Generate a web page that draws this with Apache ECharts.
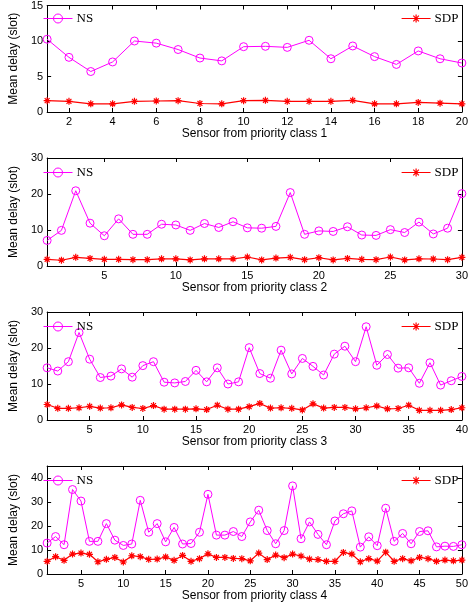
<!DOCTYPE html>
<html><head><meta charset="utf-8">
<script src="https://cdn.jsdelivr.net/npm/echarts@6/dist/echarts.min.js"></script>
<style>html,body{margin:0;padding:0;background:#fff}#c{width:471px;height:604px}</style>
</head><body><div id="c"></div><script>
// ---- data ----
const sensors1 = [1,2,3,4,5,6,7,8,9,10,11,12,13,14,15,16,17,18,19,20];
const sensors2 = [1,2,3,4,5,6,7,8,9,10,11,12,13,14,15,16,17,18,19,20,21,22,23,24,25,26,27,28,29,30];
const sensors3 = [1,2,3,4,5,6,7,8,9,10,11,12,13,14,15,16,17,18,19,20,21,22,23,24,25,26,27,28,29,30,31,32,33,34,35,36,37,38,39,40];
const sensors4 = [1,2,3,4,5,6,7,8,9,10,11,12,13,14,15,16,17,18,19,20,21,22,23,24,25,26,27,28,29,30,31,32,33,34,35,36,37,38,39,40,41,42,43,44,45,46,47,48,49,50];

const ns1  = [10.25,7.7,5.7,7.05,10.0,9.7,8.8,7.6,7.2,9.2,9.25,9.1,10.1,7.5,9.3,7.8,6.7,8.6,7.5,6.9];
const sdp1 = [1.6,1.5,1.15,1.15,1.5,1.55,1.6,1.2,1.15,1.6,1.65,1.5,1.5,1.5,1.65,1.15,1.15,1.35,1.25,1.15];

const ns2  = [7.1,9.9,20.9,11.9,8.4,13.1,8.8,8.8,11.6,11.4,9.9,11.8,10.7,12.3,10.6,10.5,11.0,20.4,8.8,9.75,9.6,10.9,8.6,8.5,10.1,9.3,12.2,8.9,10.5,20.1];
const sdp2 = [1.85,1.6,2.4,2.1,1.85,1.85,1.75,1.75,2.0,2.0,1.7,2.0,2.0,2.0,2.5,1.7,2.2,2.4,1.75,2.3,1.7,2.1,1.85,1.75,2.5,1.7,2.0,1.95,1.75,2.4];

const ns3  = [14.5,13.6,16.2,24.3,16.9,11.8,12.2,14.2,11.9,15.1,16.2,10.5,10.3,10.7,13.8,10.6,14.5,10.0,10.6,20.1,12.9,11.6,19.4,12.8,17.1,14.9,12.5,18.3,20.5,16.2,25.9,15.2,18.2,14.4,14.5,10.2,15.9,9.7,10.9,12.1];
const sdp3 = [4.3,3.25,3.25,3.4,3.8,3.3,3.4,4.2,3.5,3.2,4.0,3.0,3.0,3.0,3.1,2.9,4.1,3.0,3.0,3.7,4.6,3.3,3.4,3.25,2.8,4.5,3.3,3.5,3.5,3.1,3.4,3.9,3.1,3.2,4.1,2.7,2.7,2.7,2.9,3.4];

const ns4  = [12.9,15.6,12.2,35.2,30.4,13.6,13.6,21.0,14.1,11.9,12.5,30.7,17.4,21.0,13.4,19.4,12.5,12.7,17.4,33.2,16.2,16.2,17.7,15.6,21.7,26.6,18.1,12.6,18.1,36.7,14.7,21.7,16.5,12.2,22.1,25.1,26.3,11.2,15.5,11.8,27.4,13.6,16.9,12.6,17.7,18.0,11.3,11.6,11.5,12.2];
const sdp4 = [5.3,7.2,5.7,8.3,8.7,8.2,5.1,6.1,6.9,5.0,7.6,7.2,6.1,6.2,7.1,5.7,7.75,5.3,6.4,8.4,6.9,6.9,6.5,6.4,5.5,8.7,6.0,7.9,6.8,8.3,7.5,6.2,6.0,5.3,5.3,9.0,8.3,5.1,6.4,5.4,9.1,5.3,6.4,5.5,6.9,6.4,5.3,5.8,5.5,5.8];

const xTicks1 = [2,4,6,8,10,12,14,16,18,20];
const xTicks2 = [5,10,15,20,25,30];
const xTicks3 = [5,10,15,20,25,30,35,40];
const xTicks4 = [5,10,15,20,25,30,35,40,45,50];

const yTicks1 = [0,5,10,15];
const yTicks2 = [0,10,20,30];
const yTicks3 = [0,10,20,30];
const yTicks4 = [0,10,20,30,40];

const xNames = ['Sensor from priority class 1','Sensor from priority class 2','Sensor from priority class 3','Sensor from priority class 4'];
const yName = 'Mean delay (slot)';
const seriesNames = ['NS','SDP'];

// ---- build ----
const panels = [
  {sensors: sensors1, ns: ns1, sdp: sdp1, xTicks: xTicks1, yTicks: yTicks1, xMax: 20, yMax: 15, yInt: 5},
  {sensors: sensors2, ns: ns2, sdp: sdp2, xTicks: xTicks2, yTicks: yTicks2, xMax: 30, yMax: 30, yInt: 10},
  {sensors: sensors3, ns: ns3, sdp: sdp3, xTicks: xTicks3, yTicks: yTicks3, xMax: 40, yMax: 30, yInt: 10},
  {sensors: sensors4, ns: ns4, sdp: sdp4, xTicks: xTicks4, yTicks: yTicks4, xMax: 50, yMax: 45, yInt: 5}
];
const tops = [4, 158, 312, 466];
const H = 108;
const sans = 'Liberation Sans, Arial, sans-serif';
const serif = 'Liberation Serif, Times New Roman, serif';
const NSC = '#ff00ff', SDPC = '#ff0000';
const star = 'path://M0,5L10,5M5,0L5,10M1.5,1.5L8.5,8.5M8.5,1.5L1.5,8.5';
const nsIcon = 'path://M0,4.5L29,4.5M10,4.5A4.5,4.5,0,1,1,19,4.5A4.5,4.5,0,1,1,10,4.5';
const sdpIcon = 'path://M0,4L29,4M10.5,4L18.5,4M14.5,0L14.5,8M11.7,1.2L17.3,6.8M17.3,1.2L11.7,6.8';
const clear = 'rgba(255,255,255,0)';

const grid = [], xAxis = [], yAxis = [], series = [], legend = [];
const axisLine = {show: true, onZero: false, lineStyle: {color: '#000', width: 1}};
panels.forEach((p, i) => {
  grid.push({left: 31, right: 5, top: tops[i], height: H, containLabel: false});
  xAxis.push({
    gridIndex: i, type: 'value', min: 1, max: p.xMax, position: 'bottom',
    axisLine, splitLine: {show: false},
    axisTick: {show: true, inside: true, length: 4, customValues: p.xTicks, lineStyle: {color: '#000'}},
    axisLabel: {show: true, customValues: p.xTicks, color: '#000', fontSize: 11, fontFamily: sans, margin: 4},
    name: xNames[i], nameLocation: 'middle', nameGap: 15,
    nameTextStyle: {color: '#000', fontSize: 12, fontFamily: sans}
  });
  xAxis.push({
    gridIndex: i, type: 'value', min: 1, max: p.xMax, position: 'top',
    axisLine, splitLine: {show: false},
    axisTick: {show: true, inside: true, length: 4, customValues: p.xTicks, lineStyle: {color: '#000'}},
    axisLabel: {show: false}
  });
  yAxis.push({
    gridIndex: i, type: 'value', min: 0, max: p.yMax, interval: p.yInt, position: 'left',
    axisLine, splitLine: {show: false},
    axisTick: {show: true, inside: true, length: 4, customValues: p.yTicks, lineStyle: {color: '#000'}},
    axisLabel: {show: true, customValues: p.yTicks, color: '#000', fontSize: 11, fontFamily: sans, margin: 4},
    name: yName, nameLocation: 'middle', nameGap: 21,
    nameTextStyle: {color: '#000', fontSize: 12, fontFamily: sans}
  });
  yAxis.push({
    gridIndex: i, type: 'value', min: 0, max: p.yMax, interval: p.yInt, position: 'right',
    axisLine, splitLine: {show: false},
    axisTick: {show: true, inside: true, length: 4, customValues: p.yTicks, lineStyle: {color: '#000'}},
    axisLabel: {show: false}
  });
  series.push({
    name: seriesNames[0], type: 'line', xAxisIndex: 2*i, yAxisIndex: 2*i,
    data: p.sensors.map((s, k) => [s, p.ns[k]]),
    symbol: 'circle', symbolSize: 8, showAllSymbol: true,
    lineStyle: {color: NSC, width: 1},
    itemStyle: {color: clear, borderColor: NSC, borderWidth: 1},
    emphasis: {disabled: true}
  });
  series.push({
    name: seriesNames[1], type: 'line', xAxisIndex: 2*i, yAxisIndex: 2*i,
    data: p.sensors.map((s, k) => [s, p.sdp[k]]),
    symbol: star, symbolSize: 7, showAllSymbol: true,
    lineStyle: {color: SDPC, width: 1.2},
    itemStyle: {color: clear, borderColor: SDPC, borderWidth: 1.2},
    emphasis: {disabled: true}
  });
  legend.push({
    data: [{name: seriesNames[0], icon: nsIcon}], left: 43, top: tops[i] + 8, padding: 0,
    itemWidth: 29, itemHeight: 9, itemGap: 4, selectedMode: false,
    itemStyle: {color: clear, borderColor: NSC, borderWidth: 1},
    textStyle: {color: '#000', fontSize: 13, fontFamily: serif, padding: [0,0,0,-1]}
  });
  legend.push({
    data: [{name: seriesNames[1], icon: sdpIcon}], left: 401, top: tops[i] + 8, padding: 0,
    itemWidth: 29, itemHeight: 8, itemGap: 4, selectedMode: false,
    itemStyle: {color: clear, borderColor: SDPC, borderWidth: 1.2},
    textStyle: {color: '#000', fontSize: 13, fontFamily: serif, padding: [0,0,0,-1]}
  });
});

const chart = echarts.init(document.getElementById('c'), null, {renderer: 'canvas'});
chart.setOption({animation: false, backgroundColor: '#fff', grid, xAxis, yAxis, series, legend});
</script></body></html>
